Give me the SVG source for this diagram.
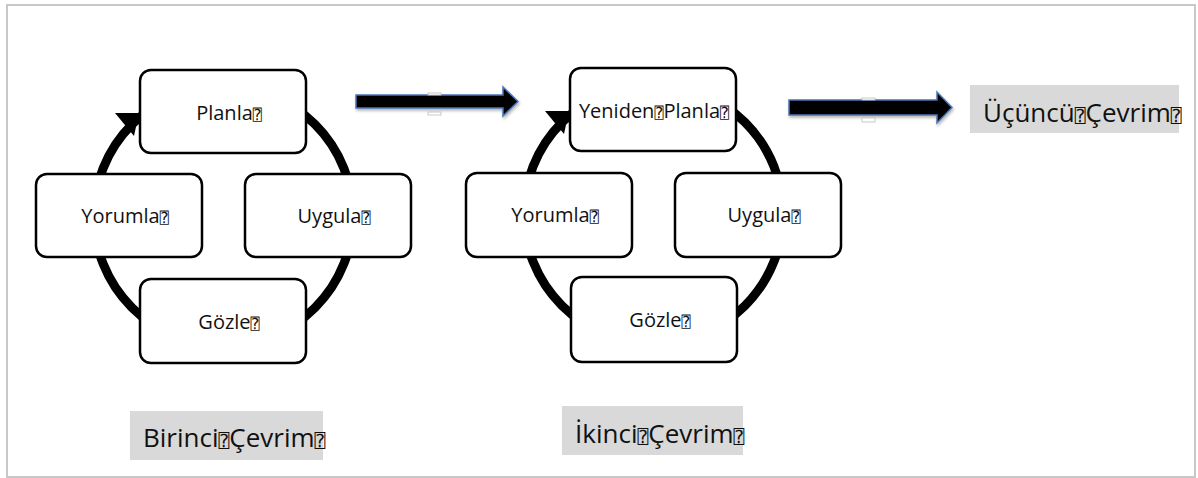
<svg xmlns="http://www.w3.org/2000/svg" width="1198" height="478" viewBox="0 0 1198 478">
  <style>
    .ring { fill: none; stroke: #000; stroke-width: 9; }
    .head { fill: #000; }
    .box { fill: #fff; stroke: #000; stroke-width: 2.5; }
    .lbl { font-family: "Open Sans", "Liberation Sans", sans-serif; font-size: 20px; fill: #111; text-anchor: middle; }
    .cap { font-family: "Open Sans", "Liberation Sans", sans-serif; font-size: 26px; fill: #111; }
    .tofu { font-family: "DejaVu Sans Mono", "DejaVu Sans", monospace; font-size: 15px; }
    .tofu-l { font-family: "DejaVu Sans Mono", "DejaVu Sans", monospace; font-size: 18px; }
    .tag { fill: #d9d9d9; }
    .blk { fill: #000; stroke: #4a76b8; stroke-width: 1.5; filter: url(#shadow); }
    .tick { fill: #fff; stroke: #bbb; stroke-width: 0.8; }
  </style>
  <defs>
    <filter id="shadow" x="-10%" y="-50%" width="120%" height="200%">
      <feDropShadow dx="1" dy="2" stdDeviation="1.5" flood-color="#000" flood-opacity="0.3"/>
    </filter>
  </defs>

  <!-- page frame -->
  <rect x="7" y="5" width="1188" height="472" fill="#fff" stroke="#c8c8c8" stroke-width="2"/>

  <g id="connectors">
    <!-- cycle rings -->
    <circle class="ring" cx="223.5" cy="216" r="129.5"/>
    <polygon class="head" points="115,113 139,113 134,136"/>
    <circle class="ring" cx="653.5" cy="214" r="129.5"/>
    <polygon class="head" points="545,111 569,111 564,134"/>
    <!-- block arrows between cycles -->
    <polygon class="blk" points="356,95 503,95 503,87 518,101.5 503,116 503,108 356,108"/>
    <rect class="tick" x="428" y="93" width="13" height="2"/>
    <rect class="tick" x="428" y="112" width="13" height="3"/>
    <polygon class="blk" points="789,100 937,100 937,92 952,107.5 937,123 937,115 789,115"/>
    <rect class="tick" x="862" y="98" width="13" height="2"/>
    <rect class="tick" x="862" y="118" width="13" height="4"/>
  </g>

  <!-- first cycle -->
  <g id="planla1">
    <rect class="box" x="140" y="70" width="166" height="83" rx="11"/>
    <text class="lbl" x="229" y="120">Planla<tspan class="tofu">⍰</tspan></text>
  </g>
  <g id="yorumla1">
    <rect class="box" x="36" y="174" width="166" height="83" rx="11"/>
    <text class="lbl" x="125" y="223">Yorumla<tspan class="tofu">⍰</tspan></text>
  </g>
  <g id="uygula1">
    <rect class="box" x="245" y="174" width="166" height="83" rx="11"/>
    <text class="lbl" x="334" y="223">Uygula<tspan class="tofu">⍰</tspan></text>
  </g>
  <g id="gozle1">
    <rect class="box" x="140" y="279" width="166" height="84" rx="11"/>
    <text class="lbl" x="229" y="329">Gözle<tspan class="tofu">⍰</tspan></text>
  </g>
  <g id="birinci">
    <rect class="tag" x="130" y="411" width="193" height="49"/>
    <text class="cap" x="143" y="447">Birinci<tspan class="tofu-l">⍰</tspan>Çevrim<tspan class="tofu-l">⍰</tspan></text>
  </g>

  <!-- second cycle -->
  <g id="planla2">
    <rect class="box" x="570" y="68" width="166" height="83" rx="11"/>
    <text class="lbl" x="654" y="118">Yeniden<tspan class="tofu">⍰</tspan>Planla<tspan class="tofu">⍰</tspan></text>
  </g>
  <g id="yorumla2">
    <rect class="box" x="466" y="173" width="166" height="84" rx="11"/>
    <text class="lbl" x="555" y="222">Yorumla<tspan class="tofu">⍰</tspan></text>
  </g>
  <g id="uygula2">
    <rect class="box" x="675" y="173" width="166" height="84" rx="11"/>
    <text class="lbl" x="764" y="222">Uygula<tspan class="tofu">⍰</tspan></text>
  </g>
  <g id="gozle2">
    <rect class="box" x="571" y="277" width="166" height="85" rx="11"/>
    <text class="lbl" x="660" y="327">Gözle<tspan class="tofu">⍰</tspan></text>
  </g>
  <g id="ikinci">
    <rect class="tag" x="562" y="406" width="181" height="49"/>
    <text class="cap" x="575" y="443">İkinci<tspan class="tofu-l">⍰</tspan>Çevrim<tspan class="tofu-l">⍰</tspan></text>
  </g>

  <!-- third cycle caption -->
  <g id="ucuncu">
    <rect class="tag" x="970" y="85" width="209" height="48"/>
    <text class="cap" x="983" y="122">Üçüncü<tspan class="tofu-l">⍰</tspan>Çevrim<tspan class="tofu-l">⍰</tspan></text>
  </g>
</svg>
